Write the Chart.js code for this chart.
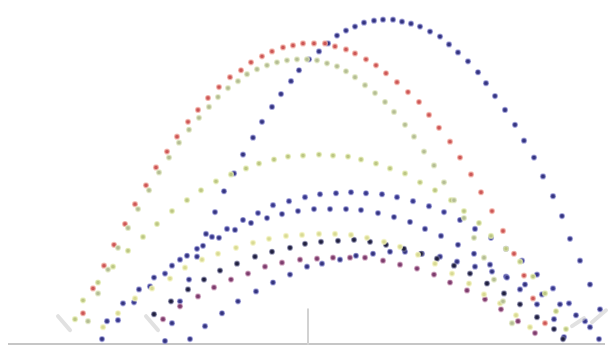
<!DOCTYPE html>
<html>
<head>
<meta charset="utf-8">
<script src="https://cdn.jsdelivr.net/npm/chart.js@4/dist/chart.umd.min.js"></script>
<style>
html,body{margin:0;padding:0;background:#fff;}
#wrap{width:614px;height:350px;}
</style>
</head>
<body>
<div id="wrap"><canvas id="c"></canvas></div>
<script>
// x = horizontal distance, y = height above the ground line
const arcBlueHigh = [[165,3],[172,21],[180,43],[189,65],[197,88],[206,111],[215,133],[224,154],[234,172],[243,191],[253,208],[262,224],[272,239],[281,252],[291,265],[299,276],[309,287],[319,295],[328,303],[337,311],[346,316],[355,320],[364,324],[374,326],[383,327],[393,327],[402,325],[411,323],[420,320],[430,315],[440,310],[449,302],[458,294],[468,285],[478,274],[486,263],[495,250],[505,236],[515,221],[524,205],[534,188],[543,169],[553,149],[562,129],[570,106],[580,84],[590,60],[600,35]];
const arcRed = [[83,31],[93,56],[104,79],[114,100],[125,121],[135,141],[146,160],[156,178],[167,194],[177,209],[188,224],[198,236],[208,248],[219,259],[230,269],[241,276],[251,284],[262,290],[272,295],[283,299],[293,301],[303,303],[314,303],[325,303],[335,300],[346,297],[355,293],[366,287],[376,281],[386,273],[397,264],[408,254],[419,244],[429,231],[439,218],[450,204],[460,188],[471,171],[481,153],[492,134],[503,114],[514,91],[524,69],[533,46],[545,21]];
const arcGreenHigh = [[88,23],[98,51],[108,75],[118,97],[128,117],[138,136],[149,155],[159,173],[169,188],[179,203],[189,216],[199,228],[209,239],[218,249],[228,258],[238,265],[247,272],[257,277],[267,281],[277,284],[287,286],[297,287],[307,287],[317,286],[327,283],[337,280],[346,275],[355,269],[365,261],[375,253],[385,244],[394,234],[405,221],[414,209],[424,194],[434,180],[444,163],[454,145],[464,127],[474,107],[484,87],[494,65],[503,43],[512,21]];
const arcGreenMid = [[75,25],[83,44],[98,62],[113,78],[128,94],[143,108],[157,121],[172,134],[187,145],[201,155],[216,164],[231,171],[246,177],[259,182],[274,186],[288,189],[303,190],[319,191],[333,190],[348,189],[361,186],[376,182],[390,177],[405,172],[420,163],[435,155],[451,145],[464,134],[479,122],[491,109],[506,96],[520,83],[533,68],[545,51],[556,33],[566,15]];
const arcBlueA = [[118,24],[134,42],[150,58],[165,71],[180,85],[197,96],[212,108],[227,116],[243,125],[258,132],[273,140],[289,144],[305,148],[320,151],[336,152],[351,153],[366,152],[382,151],[397,148],[413,144],[429,139],[444,133],[460,125],[475,116],[491,107],[506,96],[522,84],[537,70],[553,56],[569,41],[585,23]];
const arcBlueB = [[102,5],[107,23],[123,41],[139,55],[154,67],[172,79],[187,89],[203,99],[219,107],[235,115],[251,122],[267,127],[282,131],[298,134],[314,136],[330,136],[346,136],[361,135],[378,132],[394,128],[410,123],[425,116],[441,109],[458,100],[474,91],[490,80],[506,68],[520,55],[537,40],[554,25],[564,7]];
const arcYellow = [[103,17],[118,31],[135,46],[152,56],[170,66],[185,77],[202,85],[218,91],[236,97],[253,102],[269,106],[286,109],[302,110],[319,111],[335,111],[351,110],[367,107],[384,103],[400,98],[418,90],[435,81],[452,71],[469,61],[484,50],[500,41],[516,29],[530,17]];
const arcBlack = [[154,30],[171,43],[188,55],[204,65],[220,74],[237,81],[255,88],[272,93],[290,97],[305,101],[321,103],[338,104],[354,105],[370,103],[386,100],[404,96],[421,91],[437,86],[454,79],[470,71],[487,61],[504,51],[520,40],[537,27],[554,15],[563,5]];
const arcPurple = [[163,25],[180,38],[198,48],[214,57],[231,65],[248,71],[265,78],[282,82],[300,85],[317,86],[333,87],[350,87],[365,87],[383,84],[400,80],[417,76],[434,70],[450,62],[467,54],[485,45],[501,35],[518,23],[535,11]];
const arcBlueLow = [[190,5],[205,18],[222,31],[238,43],[256,53],[273,62],[290,70],[307,78],[322,81],[340,85],[356,89],[373,91],[390,93],[405,93],[422,91],[440,88],[457,83],[475,78],[492,73],[507,67],[525,60],[542,50],[560,40],[576,29],[590,17],[599,5]];
const centreMark = [[308,0],[308,35]];
const launcherA = [[58,28],[70,14]];
const launcherB = [[146,28],[158,14]];
const launcherC = [[572,18],[584,26]];
const launcherD = [[592,22],[606,34]];

const toPts = a => a.map(p => ({x:p[0], y:p[1]}));

function dots(data, fill, halo){
  return {type:'scatter', data:toPts(data), pointRadius:2.4, pointBorderWidth:1.4,
    backgroundColor:fill, borderColor:halo, pointHoverRadius:2.4, clip:false};
}
function seg(data, color, w){
  return {type:'line', data:toPts(data), borderColor:color, borderWidth:w,
    pointRadius:0, showLine:true, fill:false, clip:false, borderCapStyle:'round'};
}

new Chart(document.getElementById('c'), {
  type:'scatter',
  data:{datasets:[
    seg(launcherA,'rgba(200,200,200,0.55)',4),
    seg(launcherB,'rgba(200,200,200,0.55)',4),
    seg(launcherC,'rgba(200,200,200,0.55)',4),
    seg(launcherD,'rgba(200,200,200,0.55)',4),
    seg(centreMark,'#d2d2d2',2),
    dots(arcGreenHigh,'#b4bd94','rgba(222,230,190,0.7)'),
    dots(arcGreenMid,'#bcc684','rgba(228,236,180,0.7)'),
    dots(arcYellow,'#d8da94','rgba(242,242,190,0.7)'),
    dots(arcRed,'#cc5656','rgba(242,175,165,0.7)'),
    dots(arcPurple,'#7c3c6c','rgba(195,140,175,0.6)'),
    dots(arcBlack,'#20203e','rgba(115,115,155,0.6)'),
    dots(arcBlueLow,'#34347c','rgba(130,130,205,0.6)'),
    dots(arcBlueB,'#34347e','rgba(130,130,205,0.6)'),
    dots(arcBlueA,'#38388a','rgba(130,130,205,0.6)'),
    dots(arcBlueHigh,'#34347e','rgba(130,130,205,0.6)')
  ]},
  options:{
    responsive:true, maintainAspectRatio:false, animation:false,
    layout:{padding:{left:9,right:10,top:0,bottom:6}},
    plugins:{legend:{display:false}, tooltip:{enabled:false}},
    scales:{
      x:{type:'linear', min:9, max:604, display:true,
         grid:{display:false, drawTicks:false}, ticks:{display:false},
         border:{display:true, color:'#c6c6c6', width:2}},
      y:{type:'linear', min:0, max:343, display:false}
    }
  }
});
</script>
</body>
</html>
